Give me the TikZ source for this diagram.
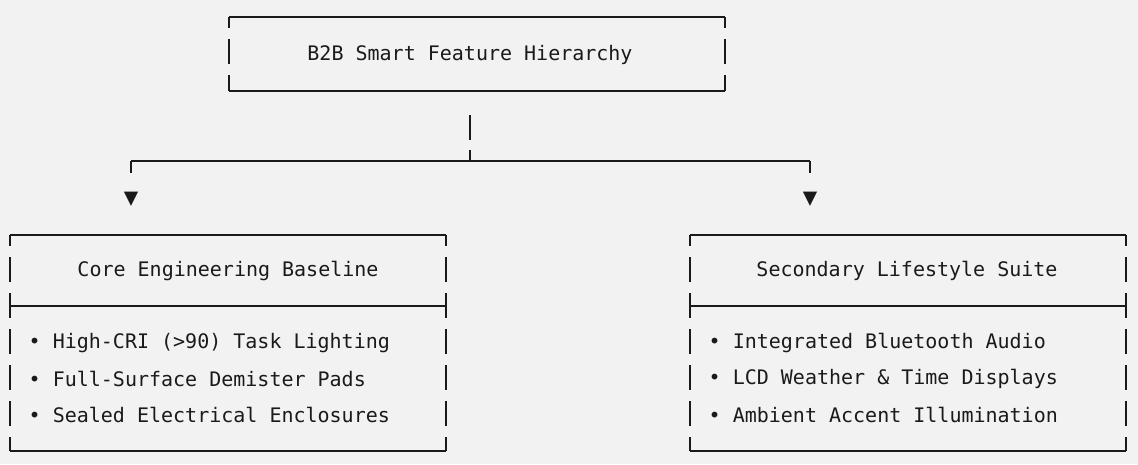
\documentclass[tikz,border=0pt]{standalone}
\usepackage{fontspec}
\setmainfont{DejaVu Sans Mono}
\usepackage{xcolor}
\definecolor{paper}{HTML}{F2F2F2}
\definecolor{ink}{HTML}{1A1A1A}

\begin{document}
\begin{tikzpicture}[x=1pt,y=-1pt,line width=1.4pt,
    ink/.style={draw=ink},
    side/.style={draw=ink,dash pattern=on 25pt off 11pt,dash phase=14pt},
    txt/.style={inner sep=0pt,text=ink,font=\fontsize{20}{20}\selectfont,anchor=west},
    head/.style={inner sep=0pt,text=ink,font=\fontsize{20}{20}\selectfont},
    tip/.style={inner sep=0pt,text=ink,font=\fontsize{24}{24}\selectfont}]
    \fill[paper] (0,0) rectangle (1138,464);
    \useasboundingbox (0,0) rectangle (1138,464);

    % top box
    \draw[ink] (229,17) -- (725,17);
    \draw[ink] (229,91) -- (725,91);
    \draw[side] (229,17) -- (229,91);
    \draw[side] (725,17) -- (725,91);
    \node[head] (top) at (470,55) {B2B Smart Feature Hierarchy};

    % branches
    \coordinate (stem) at (470,115);
    \coordinate (fork) at (470,161);
    \coordinate (lf) at (131,161);
    \coordinate (rf) at (810,161);
    \node[tip] (la) at (131,199) {▼};
    \node[tip] (ra) at (810,199) {▼};
    \draw[ink] (stem) -- (470,140);
    \draw[ink] (470,150) -- (fork);
    \draw[ink] (lf) -- (rf);
    \draw[ink] (lf) -- ++(0,12);
    \draw[ink] (rf) -- ++(0,12);

    % left box
    \draw[ink] (10,235) -- (446,235);
    \draw[ink] (10,306) -- (446,306);
    \draw[ink] (10,451) -- (446,451);
    \draw[side] (10,235) -- (10,451);
    \draw[side] (446,235) -- (446,451);
    \node[head] (core) at (228,271) {Core Engineering Baseline};
    \node[txt] (c1) at (28,343) {• High-CRI (>90) Task Lighting};
    \node[txt] (c2) at (28,379) {• Full-Surface Demister Pads};
    \node[txt] (c3) at (28,415) {• Sealed Electrical Enclosures};

    % right box
    \draw[ink] (690,235) -- (1126,235);
    \draw[ink] (690,306) -- (1126,306);
    \draw[ink] (690,451) -- (1126,451);
    \draw[side] (690,235) -- (690,451);
    \draw[side] (1126,235) -- (1126,451);
    \node[head] (life) at (907,271) {Secondary Lifestyle Suite};
    \node[txt] (s1) at (708,343) {• Integrated Bluetooth Audio};
    \node[txt] (s2) at (708,379) {• LCD Weather \& Time Displays};
    \node[txt] (s3) at (708,415) {• Ambient Accent Illumination};
\end{tikzpicture}
\end{document}
